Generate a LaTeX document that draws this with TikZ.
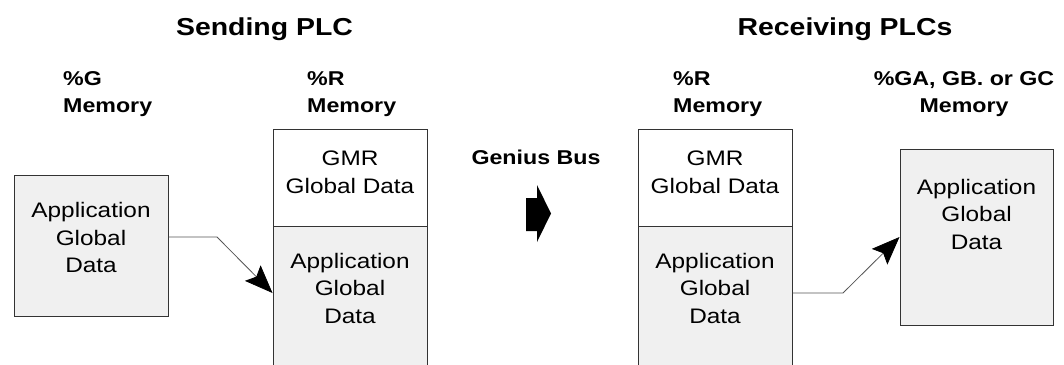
\documentclass[tikz,border=0pt]{standalone}
\usepackage{fontspec}
\setmainfont[FakeStretch=1.16]{Liberation Sans}
\usetikzlibrary{arrows.meta}

\definecolor{boxgray}{HTML}{F0F0F0}
\definecolor{edgegray}{HTML}{333333}
\definecolor{wiregray}{HTML}{555555}

\tikzset{
    membox/.style={draw=edgegray, line width=1pt, inner sep=0pt},
    title/.style={font=\fontsize{24.5}{30}\selectfont\bfseries, inner sep=0pt},
    head/.style={font=\fontsize{20}{27}\selectfont\bfseries, inner sep=0pt},
    body/.style={font=\fontsize{21}{27.5}\selectfont, align=center, inner sep=0pt},
    wire/.style={draw=wiregray, line width=0.8pt, -{Stealth[length=28pt,width=22pt,inset=5pt,fill=black,color=black]}}
}

\begin{document}
\begin{tikzpicture}[x=1pt, y=-1pt]
    \useasboundingbox (0,0) rectangle (1064,364);
    \clip (0,0) rectangle (1064,364);

    % Titles
    \node[title, anchor=base] (send) at (264.5,35) {Sending PLC};
    \node[title, anchor=base] (recv) at (845,35) {Receiving PLCs};

    % Memory headings
    \node[head, anchor=west, align=left] (hg) at (63,94) {\%G\\Memory};
    \node[head, anchor=west, align=left] (hsr) at (307,94) {\%R\\Memory};
    \node[head, anchor=west, align=left] (hrr) at (673,94) {\%R\\Memory};
    \node[head, anchor=center, align=center] (hga) at (964,94) {\%GA, GB. or GC\\Memory};

    % Sending PLC boxes
    \node[membox, fill=boxgray, minimum width=154pt, minimum height=141pt] (gmem) at (91,245.5) {};
    \node[membox, fill=white, minimum width=154pt, minimum height=97pt] (sgmr) at (350,177.5) {};
    \node[membox, fill=boxgray, minimum width=154pt, minimum height=140pt] (sapp) at (350,296) {};
    \node[body] (gmemtxt) at (91,237.5) {Application\\Global\\Data};
    \node[body] (sgmrtxt) at (350,172.5) {GMR\\Global Data};
    \node[body] (sapptxt) at (350,288) {Application\\Global\\Data};

    % Genius bus
    \node[head, anchor=base] (bus) at (536,164) {Genius Bus};
    \fill[black] (526,198) -- (537,198) -- (537,185) -- (551,213.5)
        -- (537,242) -- (537,231) -- (526,231) -- cycle;

    % Receiving PLC boxes
    \node[membox, fill=white, minimum width=154pt, minimum height=97pt] (rgmr) at (715,177.5) {};
    \node[membox, fill=boxgray, minimum width=154pt, minimum height=140pt] (rapp) at (715,296) {};
    \node[membox, fill=boxgray, minimum width=153pt, minimum height=176pt] (rglob) at (976.5,237) {};
    \node[body] (rgmrtxt) at (715,172.5) {GMR\\Global Data};
    \node[body] (rapptxt) at (715,288) {Application\\Global\\Data};
    \node[body] (rglobtxt) at (976.5,214) {Application\\Global\\Data};

    % Transfers
    \coordinate (bend1) at (217,237);
    \coordinate (bend2) at (843,293);
    \draw[wire] ([yshift=8.5pt]gmem.east) -- (bend1) -- ([yshift=3pt]sapp.west);
    \draw[wire] ([yshift=3pt]rapp.east) -- (bend2) -- (rglob.west);
\end{tikzpicture}
\end{document}
